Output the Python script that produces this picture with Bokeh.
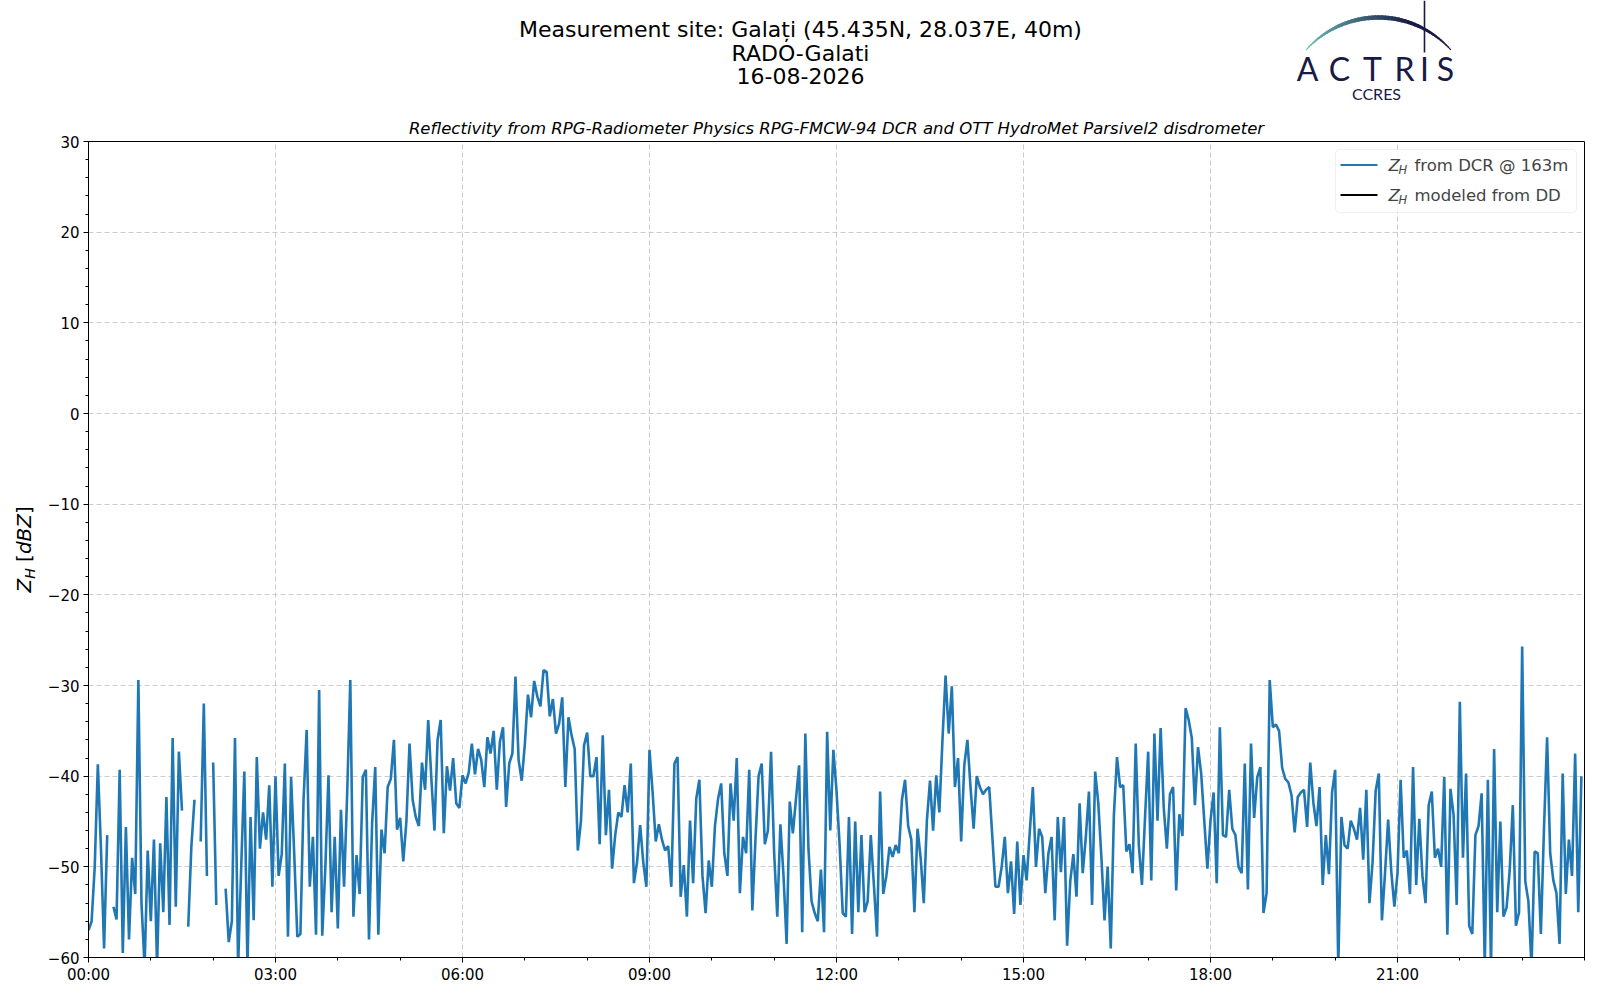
import numpy as np
from math import pi

from bokeh.core.properties import value
from bokeh.embed import file_html
from bokeh.layouts import column, row
from bokeh.models import BoxAnnotation, ColumnDataSource, FixedTicker, Label, Range1d
from bokeh.plotting import figure
from bokeh.resources import INLINE

nan = float("nan")

# Z_H from the DCR at 163 m, one value every 3 minutes, one row per hour [dBZ]
zh_h00 = [-57, -56, -50, -38.7, -48, -59, -46.5, nan, -54.4, -55.8, -39.3, -59.5, -45.6, -58, -49, -53, -29.4, -54, -61, -48.2]
zh_h01 = [-56, -47, -61, -47.4, -55, -42.3, -56.4, -35.8, -54.4, -37.3, -43.8, nan, -56.6, -47.8, -42.6, nan, -47.2, -32, -51, nan]
zh_h02 = [-38.5, -54.2, nan, nan, -52.4, -58.3, -56, -35.8, -61, -50, -39.5, -61, -44.5, -55.9, -37.9, -48, -44, -47, -41, -52.2]
zh_h03 = [-40, -51, -48.6, -38.6, -57.7, -40.1, -48.5, -57.7, -57.4, -42.6, -34.9, -52.2, -46.7, -57.5, -30.5, -57.6, -50, -39.9, -55, -46.7]
zh_h04 = [-56.8, -43.7, -52.2, -41.9, -29.4, -55.5, -48.7, -53, -40.1, -39.3, -58, -45.2, -39, -57.5, -45.9, -48.5, -41.2, -40.3, -36, -45.9]
zh_h05 = [-44.6, -49.4, -45, -36.4, -42.6, -44.5, -45.5, -38.5, -41.5, -33.8, -40.2, -46, -36, -33.8, -46.3, -38.9, -41.6, -38, -43, -43.5]
zh_h06 = [-39.9, -40.8, -39.6, -36.4, -39.8, -37, -38.2, -41.2, -35.7, -37.5, -35, -41.5, -36.2, -34.6, -43.4, -38.6, -37.5, -29, -38.2, -40.5]
zh_h07 = [-36.5, -31, -33.5, -29.5, -31.2, -32.3, -28.3, -28.5, -33.4, -31.5, -35.3, -34.2, -31.3, -41.2, -33.5, -35.5, -37, -48.2, -45, -36.6]
zh_h08 = [-35.2, -40, -40, -37.9, -47.5, -35.5, -46.5, -41.5, -50.2, -46.5, -44, -44.5, -41, -44, -38.6, -51.8, -49.5, -45.4, -49.5, -52.2]
zh_h09 = [-37.1, -41.8, -47.2, -45.3, -47, -48.2, -47.7, -52.2, -38.6, -37.9, -53.3, -49.8, -55.5, -44.9, -51.8, -42.5, -40.4, -51, -55.1, -49.3]
zh_h10 = [-52.2, -45.5, -42.5, -40.8, -48.5, -51, -40.8, -44.9, -38, -52.9, -46.7, -48.5, -39.3, -54.8, -47, -40, -38.6, -47.5, -46, -37.3]
zh_h11 = [-48.5, -55.5, -45.3, -51, -58.5, -42.8, -46.3, -42.5, -38.8, -57.2, -35.3, -48, -53.8, -55.1, -56, -50.3, -57.2, -35.1, -46, -37.1]
zh_h12 = [-41.6, -47.6, -55.1, -55.5, -44.5, -57.4, -45, -55, -46.5, -55, -53.8, -46.5, -52, -57.7, -41.7, -53, -51, -47.8, -48.9, -47.6]
zh_h13 = [-48.5, -42.6, -40.4, -45.5, -47, -55, -45.8, -49, -54, -44.9, -40.5, -46, -39.9, -44, -36, -28.9, -35.3, -30.1, -41.2, -38]
zh_h14 = [-47.2, -38.8, -36, -41.2, -45.8, -40, -41.2, -42, -41.5, -41.2, -46.7, -52.2, -52.2, -50, -46.7, -52.9, -49.4, -55.2, -47.2, -54.2]
zh_h15 = [-48.7, -51.5, -46.2, -41.2, -50, -45.8, -46.7, -52.9, -48.5, -46.7, -55.9, -44.5, -50.6, -44.5, -58.7, -51.6, -48.6, -53.3, -43, -50.7]
zh_h16 = [-46.7, -41.7, -54.2, -39.5, -43, -49, -55.9, -50, -59, -44.3, -37.9, -41.2, -41, -48.3, -47.5, -50.7, -36.4, -47.6, -52, -44.5]
zh_h17 = [-37.3, -51.5, -35.3, -44.9, -34.7, -43.5, -48, -42, -41.2, -52.6, -44.2, -46.6, -32.5, -33.8, -35.8, -43.2, -36.8, -39.7, -44.9, -50.2]
zh_h18 = [-44.9, -41.8, -51.8, -34.6, -46.5, -46.7, -41.5, -45.8, -46.5, -50, -50.7, -38.6, -52.5, -36.4, -44.6, -40.1, -39, -55.1, -52.9, -29.4]
zh_h19 = [-34.6, -34.3, -35, -39.1, -40.3, -40.7, -42.1, -46.2, -42.3, -41.8, -41.5, -45.6, -38.5, -42.9, -45.5, -41.2, -52, -46.5, -50.8, -41.8]
zh_h20 = [-39.3, -61, -44.5, -47.6, -48, -44.9, -45.8, -47, -43.5, -49.2, -41.5, -54, -49.5, -41.6, -39.7, -55.9, -50.7, -44.8, -50.5, -54.4]
zh_h21 = [-50.7, -40.4, -49, -48.2, -53, -39, -52, -44.7, -51, -54, -43.2, -41.7, -49, -48, -50, -40.1, -57.5, -41.4, -44.3, -54.2]
zh_h22 = [-31.8, -49, -39.7, -56.5, -57.4, -46.5, -45.5, -41.9, -61, -40.4, -61, -37, -55, -45, -55.5, -54.5, -50.4, -43.2, -56.5, -55]
zh_h23 = [-25.7, -51.6, -53.8, -61, -48.3, -48.5, -57.4, -45.8, -35.7, -48.5, -51.5, -52.9, -58.5, -39.7, -53, -47, -51, -37.5, -55, -40]

zh_dcr = (zh_h00 + zh_h01 + zh_h02 + zh_h03 + zh_h04 + zh_h05 + zh_h06 + zh_h07
          + zh_h08 + zh_h09 + zh_h10 + zh_h11 + zh_h12 + zh_h13 + zh_h14 + zh_h15
          + zh_h16 + zh_h17 + zh_h18 + zh_h19 + zh_h20 + zh_h21 + zh_h22 + zh_h23)
sample_step_min = 3
hours = np.arange(len(zh_dcr)) * sample_step_min / 60.0

x_ticks = [0, 3, 6, 9, 12, 15, 18, 21]
x_tick_labels = ["00:00", "03:00", "06:00", "09:00", "12:00", "15:00", "18:00", "21:00"]
y_ticks = [-60, -50, -40, -30, -20, -10, 0, 10, 20, 30]
y_tick_labels = ["\u221260", "\u221250", "\u221240", "\u221230", "\u221220", "\u221210", "0", "10", "20", "30"]

title_lines = ["Measurement site: Gala\u021bi (45.435N, 28.037E, 40m)", "RADO-Galati", "16-08-2026"]
subtitle = "Reflectivity from RPG-Radiometer Physics RPG-FMCW-94 DCR and OTT HydroMet Parsivel2 disdrometer"
legend_texts = ["from DCR @ 163m", "modeled from DD"]
legend_colors = ["#1f77b4", "black"]

FONT = "DejaVu Sans"
NAVY = "#181b45"

# page geometry in px (Bokeh's page has no body margin)
LAB_W = 40                      # strip on the left holding the y label
RIGHT_W = 1560
HEAD_H, MAIN_H = 104, 893
FRAME_X0, FRAME_X1 = 88, 1584
FRAME_Y0, FRAME_Y1 = 141, 957
PX_PER_H = (FRAME_X1 - FRAME_X0) / 24
PX_PER_DBZ = (FRAME_Y1 - FRAME_Y0) / 90


def hx(px):
    return (px - FRAME_X0) / PX_PER_H


def vy(py):
    return 30 - (py - FRAME_Y0) / PX_PER_DBZ


def bare(fig):
    fig.grid.visible = False
    fig.outline_line_color = None
    return fig


# ---------------- header: titles and logo (page px coordinates) ----------------
head = bare(figure(width=RIGHT_W, height=HEAD_H, x_range=Range1d(FRAME_X0, FRAME_X1),
                   y_range=Range1d(HEAD_H, 0), x_axis_type=None, y_axis_type=None,
                   output_backend="svg", toolbar_location=None, title=None,
                   min_border_left=FRAME_X0 - LAB_W, min_border_right=1600 - FRAME_X1,
                   min_border_top=0, min_border_bottom=0))

head.text(x=[800, 800, 800], y=[28.5, 52.5, 75.5], text=title_lines,
          text_font=value(FONT), text_font_size="22px", text_align="center",
          text_baseline="alphabetic", text_color="black")

t = np.linspace(np.radians(138), np.radians(42), 49)
arc_x = 1378 + 97 * np.cos(t)
arc_y = 114 - 97 * np.sin(t)
s = np.linspace(0, 1, len(t) - 1)
c0, c1 = np.array([110, 194, 186]), np.array([24, 27, 69])
arc_cols = ["#%02x%02x%02x" % tuple(int(v) for v in c0 + (c1 - c0) * min(1.0, k * 1.4)) for k in s]
arc_w = 1.2 + 3.2 * np.sin(np.pi * s)
head.segment(arc_x[:-1], arc_y[:-1], arc_x[1:], arc_y[1:], line_color=arc_cols,
             line_width=arc_w, line_cap="round")
head.segment([1424], [0], [1424], [52], line_color=NAVY, line_width=1.6)
head.text(x=[1307, 1339, 1372, 1404, 1424, 1445], y=[68] * 6,
          text=["A", "C", "T", "R", "I", "S"], text_font=value("Lato"),
          text_font_size="32px", text_align="center", text_baseline="alphabetic",
          text_color=NAVY)
head.text(x=[1376], y=[93], text=["CCRES"], text_font=value("Lato"),
          text_font_size="16px", text_align="center", text_baseline="alphabetic",
          text_color=NAVY)

# ---------------- y label strip (x in page px, y in dBZ) ----------------
lab = bare(figure(width=LAB_W, height=HEAD_H + MAIN_H, x_range=Range1d(0, LAB_W),
                  y_range=Range1d(-60, 30), x_axis_type=None, y_axis_type=None,
                  output_backend="svg", toolbar_location=None, title=None,
                  min_border_left=0, min_border_right=0, min_border_top=FRAME_Y0,
                  min_border_bottom=HEAD_H + MAIN_H - FRAME_Y1))
ylab = [("Z", 23.6, 592, "20px", "italic"),
        ("H", 29.6, 578.3, "14px", "italic"),
        ("[", 23.6, 561.4, "20px", "normal"),
        ("dBZ", 23.6, 553.6, "20px", "italic"),
        ("]", 23.6, 513.5, "20px", "normal")]
for txt, px, py, fs, style in ylab:
    lab.text(x=[px], y=[vy(py)], text=[txt], angle=pi / 2, text_font=value(FONT),
             text_font_size=fs, text_font_style=style, text_align="left",
             text_baseline="alphabetic", text_color="black")

# ---------------- main plot ----------------
p = figure(width=RIGHT_W, height=MAIN_H, x_range=Range1d(0, 24), y_range=Range1d(-60, 30),
           output_backend="svg", toolbar_location=None, title=subtitle,
           min_border_left=FRAME_X0 - LAB_W, min_border_right=1600 - FRAME_X1,
           min_border_top=FRAME_Y0 - HEAD_H, min_border_bottom=HEAD_H + MAIN_H - FRAME_Y1)
p.title.align = "center"
p.title.text_font = FONT
p.title.text_font_style = "italic"
p.title.text_font_size = "16.5px"
p.title.text_color = "black"
p.title.standoff = 8

p.xaxis.ticker = FixedTicker(ticks=x_ticks, minor_ticks=list(range(25)))
p.yaxis.ticker = FixedTicker(ticks=y_ticks, minor_ticks=list(range(-60, 31, 2)))
p.xaxis.major_label_overrides = dict(zip(x_ticks, x_tick_labels))
p.yaxis.major_label_overrides = dict(zip(y_ticks, y_tick_labels))
p.axis.major_label_text_font = FONT
p.axis.major_label_text_font_size = "15px"
p.axis.major_label_text_color = "black"
p.axis.major_tick_in = 0
p.axis.major_tick_out = 5
p.axis.minor_tick_in = 0
p.axis.minor_tick_out = 3
p.axis.axis_line_color = "black"
p.xaxis.major_label_standoff = 3
p.yaxis.major_label_standoff = 4

p.grid.grid_line_color = "#cccccc"
p.grid.grid_line_dash = "5 3"
p.grid.grid_line_width = 1
p.outline_line_color = "black"
p.outline_line_width = 1
p.outline_line_alpha = 1

src = ColumnDataSource(data=dict(t=hours, zh=np.array(zh_dcr, dtype=float)))
p.line("t", "zh", source=src, line_color="#1f77b4", line_width=2.6)

# legend drawn by hand so the subscript H can be shown
box = BoxAnnotation(left=hx(1335), right=hx(1576), top=vy(149), bottom=vy(212),
                    fill_color="white", fill_alpha=0.8, line_color="#cccccc",
                    line_width=1, border_radius=4, level="underlay")
p.add_layout(box)
rows = [164.5, 194.5]
p.segment(x0=[hx(1340)] * 2, y0=[vy(r) for r in rows], x1=[hx(1377)] * 2,
          y1=[vy(r) for r in rows], line_color=legend_colors, line_width=2)
for r, txt in zip(rows, legend_texts):
    p.add_layout(Label(x=hx(1388), y=vy(r), text="Z", text_font=FONT,
                       text_font_style="italic", text_font_size="16.5px",
                       text_baseline="alphabetic"))
    p.add_layout(Label(x=hx(1398), y=vy(r + 5.3), text="H", text_font=FONT,
                       text_font_style="italic", text_font_size="11.5px",
                       text_baseline="alphabetic"))
    p.add_layout(Label(x=hx(1414), y=vy(r), text=txt, text_font=FONT,
                       text_font_size="16.5px", text_baseline="alphabetic"))

layout = row(lab, column(head, p))
open("out.html", "w").write(file_html(layout, INLINE))
